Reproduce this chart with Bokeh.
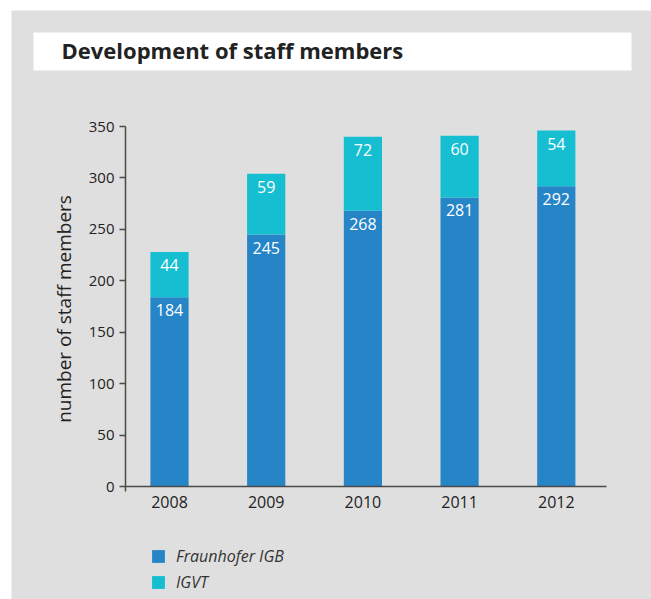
from bokeh.plotting import figure
from bokeh.models import (ColumnDataSource, Range1d, Legend, LegendItem, Label,
                          BoxAnnotation, FixedTicker)
from bokeh.core.properties import value
from bokeh.embed import file_html
from bokeh.resources import INLINE

# ---- data ----
years = ["2008", "2009", "2010", "2011", "2012"]
fraunhofer = [184, 245, 268, 281, 292]
igvt = [44, 59, 72, 60, 54]
y_ticks = [0, 50, 100, 150, 200, 250, 300, 350]
series_names = ["Fraunhofer IGB", "IGVT"]
colors = ["#2685C7", "#15BED0"]

BG = "#DFDFDF"
FONT = "Open Sans"
TXT = "#222222"

# ---- layout (pixels of the figure; figure placed at page offset 11,10) ----
W, H = 640, 589
OX, OY = 11, 10
# page x of first category centre and spacing between categories
cx0, step = 169.0, 96.7
# page y of value 0 and 350
py0, py350 = 486.0, 126.0
ppu = (py0 - py350) / 350.0

x_start = (OX - cx0) / step
x_end = (OX + W - cx0) / step
y_end = 350 + (py350 - OY) / ppu
y_start = -(OY + H - py0) / ppu
axis_x_left = (125 - cx0) / step
axis_x_right = (606 - cx0) / step

idx = list(range(len(years)))
src = ColumnDataSource(dict(
    x=idx,
    fraunhofer=fraunhofer,
    igvt=igvt,
    f_lab=[str(v) for v in fraunhofer],
    i_lab=[str(v) for v in igvt],
    f_top=fraunhofer,
    i_top=[a + b for a, b in zip(fraunhofer, igvt)],
))

p = figure(x_range=Range1d(x_start, x_end), y_range=Range1d(y_start, y_end),
           width=W, height=H, output_backend="svg", toolbar_location=None,
           min_border=0)
p.styles = {"margin-left": f"{OX}px", "margin-top": f"{OY}px"}
p.background_fill_color = BG
p.border_fill_color = BG
p.outline_line_color = None
p.grid.grid_line_color = None

# title box
box = BoxAnnotation(left=22, right=620, top=H - 22, bottom=H - 60,
                    left_units="screen", right_units="screen",
                    top_units="screen", bottom_units="screen",
                    fill_color="white", fill_alpha=1.0, line_color=None, level="underlay")
p.add_layout(box)
title = Label(x=50, y=H - 39, x_units="screen", y_units="screen",
              text="Development of staff members", text_font=FONT,
              text_font_size="22px", text_font_style="bold", text_color=TXT,
              text_baseline="middle", text_align="left")
p.add_layout(title)

rs = p.vbar_stack(["fraunhofer", "igvt"], x="x", width=0.395, color=colors,
                  source=src, line_color=None)

# value labels inside bars
for ycol, tcol in (("f_top", "f_lab"), ("i_top", "i_lab")):
    p.text(x="x", y=ycol, text=tcol, source=src, text_color="white",
           text_font=value(FONT), text_font_size="16px", text_align="center",
           text_baseline="top", y_offset=7)

# x axis
xa = p.xaxis[0]
xa.fixed_location = 0
xa.bounds = (axis_x_left, axis_x_right)
xa.ticker = FixedTicker(ticks=idx)
xa.major_label_overrides = {i: y for i, y in zip(idx, years)}
xa.axis_line_color = "#4a4a4a"
xa.axis_line_width = 1.5
xa.major_tick_line_color = None
xa.minor_tick_line_color = None
xa.major_label_text_font = FONT
xa.major_label_text_font_size = "16px"
xa.major_label_text_color = TXT
xa.major_label_standoff = 3

# y axis
ya = p.yaxis[0]
ya.fixed_location = axis_x_left
ya.bounds = (-5 / ppu, 350)
ya.ticker = FixedTicker(ticks=y_ticks)
ya.axis_line_color = "#4a4a4a"
ya.axis_line_width = 1.5
ya.major_tick_line_color = "#4a4a4a"
ya.major_tick_line_width = 1.5
ya.major_tick_out = 6
ya.major_tick_in = 0
ya.minor_tick_line_color = None
ya.major_label_text_font = FONT
ya.major_label_text_font_size = "15px"
ya.major_label_text_color = TXT
ya.major_label_standoff = 5
ya.axis_label = "number of staff members"
ya.axis_label_text_font = FONT
ya.axis_label_text_font_size = "19px"
ya.axis_label_text_font_style = "normal"
ya.axis_label_text_color = TXT
ya.axis_label_standoff = 9

legend = Legend(items=[LegendItem(label=series_names[i], renderers=[rs[i]]) for i in range(2)],
                location=(139, 6), orientation="vertical",
                background_fill_alpha=0, border_line_color=None,
                glyph_width=16, glyph_height=16, label_height=16, spacing=4,
                label_standoff=10, padding=0, margin=0,
                label_text_font=FONT, label_text_font_size="16px",
                label_text_font_style="italic", label_text_color="#333333")
p.add_layout(legend)

open("out.html", "w").write(file_html(p, INLINE))
